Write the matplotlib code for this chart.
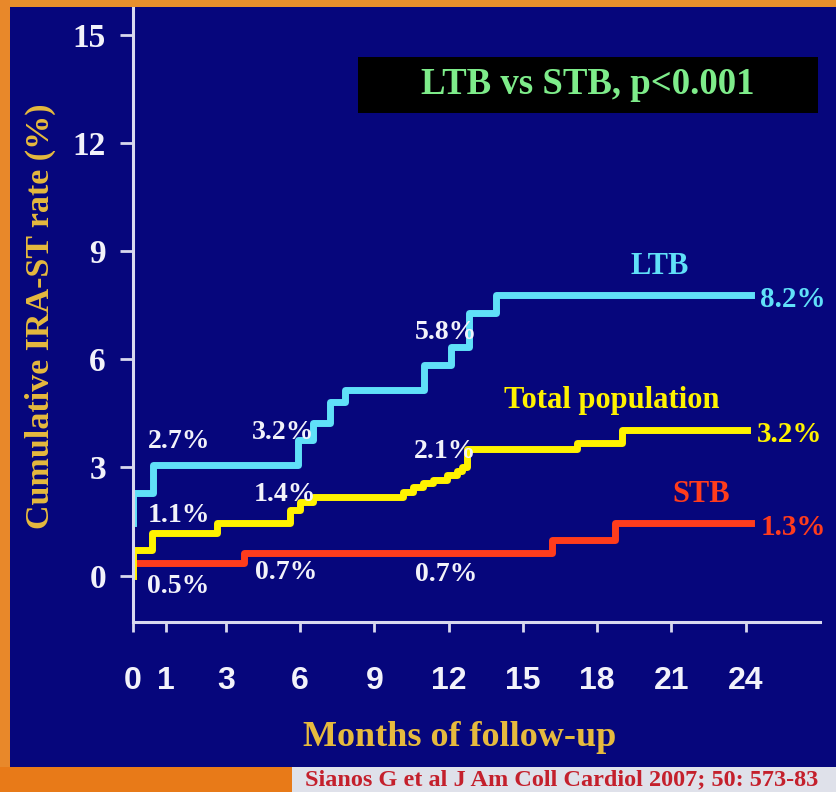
import numpy as np
import matplotlib.pyplot as plt
from matplotlib.patches import Rectangle

# ---------------------------------------------
# values (months, cumulative %)
# ---------------------------------------------
ltb_months = [0, 0, 0.6, 5.9, 6.5, 7.2, 7.8, 11.0, 12.1, 12.8, 13.9, 24.2]
ltb_rate = [1.46, 2.29, 3.07, 3.76, 4.24, 4.82, 5.15, 5.85, 6.34, 7.28, 7.78, 7.78]

total_months = [0, 0, 0.58, 2.7, 5.58, 5.99, 6.51, 10.15, 10.56, 10.96, 11.36,
                11.93, 12.33, 12.53, 12.75, 17.18, 18.99, 24.04]
total_rate = [0.0, 0.71, 1.18, 1.46, 1.82, 2.04, 2.18, 2.32, 2.46, 2.57, 2.65,
              2.79, 2.90, 3.01, 3.52, 3.68, 4.04, 4.04]

stb_months = [0, 0, 3.73, 16.17, 18.71, 24.2]
stb_rate = [0.0, 0.35, 0.63, 0.99, 1.46, 1.46]

x_ticks = [0, 1, 3, 6, 9, 12, 15, 18, 21, 24]
y_ticks = [0, 3, 6, 9, 12, 15]

# end-of-curve labels
end_labels = {"LTB": "8.2%", "Total population": "3.2%", "STB": "1.3%"}

# intermediate labels (text, month, rate)
mid_labels = [
    ("2.7%", 1.43, 3.71), ("3.2%", 5.30, 3.98), ("5.8%", 11.89, 6.73),
    ("1.1%", 1.43, 1.68), ("1.4%", 5.38, 2.24), ("2.1%", 11.85, 3.43),
    ("0.5%", 1.42, -0.31), ("0.7%", 5.42, 0.08), ("0.7%", 11.89, 0.02),
]

# the slide stretches the first months of the x axis
month_knots = [0, 1, 3, 27]
axis_knots = [-0.756, 0.577, 3, 27]


def fwd(x):
    return np.interp(x, month_knots, axis_knots)


def inv(u):
    return np.interp(u, axis_knots, month_knots)


# -----------------------------
# colours / fonts
# -----------------------------
NAVY = "#06067c"
CYAN = "#60e0f8"
YELLOW = "#fff200"
RED = "#ff3c1c"
WHITE = "#f2f2fa"
GOLD = "#e6ba3e"
SERIF = "Liberation Serif"
SANS = "Liberation Sans"

fig = plt.figure(figsize=(8.36, 7.92), dpi=100, facecolor=NAVY)
ax = fig.add_axes([133 / 836, 1 - 622 / 792, 687 / 836, 614 / 792])
ax.set_facecolor(NAVY)

ax.set_xscale("function", functions=(fwd, inv))
ax.set_xlim(0, 27)
ax.set_ylim(-1.284, 15.74)

# curves
ax.plot(stb_months, stb_rate, drawstyle="steps-post", color=RED, lw=5)
ax.plot(ltb_months, ltb_rate, drawstyle="steps-post", color=CYAN, lw=5)
ax.plot(total_months, total_rate, drawstyle="steps-post", color=YELLOW, lw=5)

# axes styling
for s in ["top", "right"]:
    ax.spines[s].set_visible(False)
for s in ["left", "bottom"]:
    ax.spines[s].set_color("#d8d8ee")
    ax.spines[s].set_linewidth(2.2)

ax.set_xticks(x_ticks)
ax.set_xticklabels([str(t) for t in x_ticks], family=SANS, weight="bold",
                   size=23, color=WHITE)
ax.set_yticks(y_ticks)
ax.set_yticklabels([str(t) for t in y_ticks], family=SERIF, weight="bold",
                   size=24, color=WHITE)
ax.tick_params(axis="x", direction="out", length=7.5, width=2, color="#d8d8ee", pad=24)
ax.tick_params(axis="y", direction="out", length=9.5, width=2, color="#d8d8ee", pad=10)
ax.xaxis.set_minor_locator(plt.NullLocator())

# curve names and final values
ax.text(20.53, 8.56, "LTB", color=CYAN, family=SERIF, weight="bold", size=22,
        ha="center", va="center")
ax.text(18.59, 4.87, "Total population", color=YELLOW, family=SERIF, weight="bold",
        size=22, ha="center", va="center")
ax.text(22.18, 2.24, "STB", color=RED, family=SERIF, weight="bold", size=22,
        ha="center", va="center")

for lab, mx, ry, col in [
    (end_labels["LTB"], ltb_months[-1], ltb_rate[-1], CYAN),
    (end_labels["Total population"], total_months[-1], total_rate[-1], YELLOW),
    (end_labels["STB"], stb_months[-1], stb_rate[-1], RED),
]:
    ax.annotate(lab, (mx, ry), xytext=(7, -3), textcoords="offset points",
                color=col, family=SERIF, weight="bold", size=21,
                ha="left", va="center")

for lab, mx, ry in mid_labels:
    ax.text(mx, ry, lab, color=WHITE, family=SERIF, weight="bold", size=20,
            ha="center", va="center")

# p-value box
ax.add_patch(Rectangle((0.3275, 0.829), 0.6695, 0.091, transform=ax.transAxes,
                       facecolor="black", edgecolor="none", zorder=3))
ax.text(0.662, 0.875, "LTB vs STB, p<0.001", transform=ax.transAxes, color="#7eec8a",
        family=SERIF, weight="bold", size=26.5, ha="center", va="center", zorder=4)

# axis titles
fig.text(460 / 836, 1 - 737 / 792, "Months of follow-up", color=GOLD, family=SERIF,
         weight="bold", size=26, ha="center", va="center")
fig.text(40 / 836, 1 - 316 / 792, "Cumulative IRA-ST rate (%)", color=GOLD,
         family=SERIF, weight="bold", size=24.5, rotation=90, ha="center", va="center")

# slide frame pieces
fig.patches.append(Rectangle((0, 1 - 7 / 792), 1, 7 / 792, transform=fig.transFigure,
                             facecolor="#e8902c", edgecolor="none"))
fig.patches.append(Rectangle((0, 0), 10 / 836, 1, transform=fig.transFigure,
                             facecolor="#e8882a", edgecolor="none"))
fig.patches.append(Rectangle((0, 0), 292 / 836, 25 / 792, transform=fig.transFigure,
                             facecolor="#e87a18", edgecolor="none"))
fig.patches.append(Rectangle((292 / 836, 0), 1 - 292 / 836, 25 / 792,
                             transform=fig.transFigure, facecolor="#dfe1ea",
                             edgecolor="none"))
fig.text(562 / 836, 1 - 780 / 792, "Sianos G et al J Am Coll Cardiol 2007; 50: 573-83",
         color="#c4202c", family=SERIF, weight="bold", size=17.5, ha="center", va="center")

fig.savefig("out.png", dpi=100, facecolor=NAVY)
